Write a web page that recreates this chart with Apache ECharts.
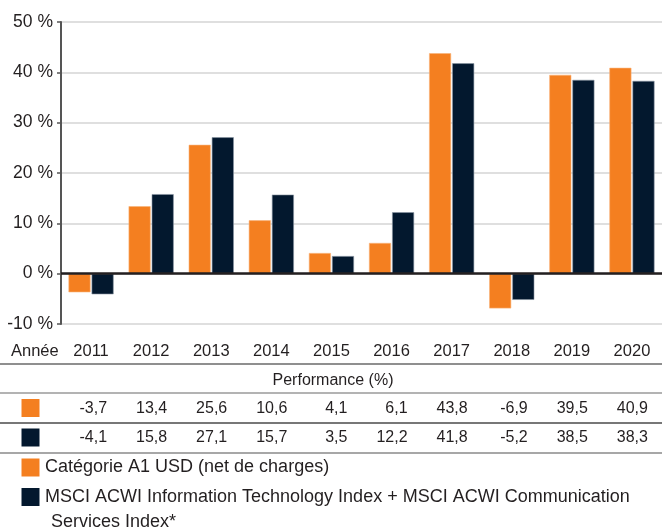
<!DOCTYPE html>
<html><head><meta charset="utf-8">
<script src="https://cdn.jsdelivr.net/npm/echarts@6/dist/echarts.min.js"></script>
<style>html,body{margin:0;padding:0;background:#fff}#c{width:662px;height:531px}</style>
</head><body><div id="c"></div>
<script>
const years = ['2011','2012','2013','2014','2015','2016','2017','2018','2019','2020'];
const fundValues = [-3.7, 13.4, 25.6, 10.6, 4.1, 6.1, 43.8, -6.9, 39.5, 40.9];
const indexValues = [-4.1, 15.8, 27.1, 15.7, 3.5, 12.2, 41.8, -5.2, 38.5, 38.3];
const fundName = 'Catégorie A1 USD (net de charges)';
const indexName1 = 'MSCI ACWI Information Technology Index + MSCI ACWI Communication';
const indexName2 = 'Services Index*';
const yearLabel = 'Année';
const tableTitle = 'Performance (%)';
const ORANGE = '#f47f20', NAVY = '#03182e', TXT = '#231f20';
const FONT = '"Liberation Sans", Arial, Helvetica, sans-serif';

const chart = echarts.init(document.getElementById('c'), null, {renderer:'canvas'});
const fmt = v => v.toFixed(1).replace('.', ',');

chart.setOption({
  animation:false,
  textStyle:{fontFamily:FONT},
  grid:{left:61, top:22, width:606, height:302},
  xAxis:{type:'category', data:years,
    axisLine:{show:false}, axisTick:{show:false},
    axisLabel:{fontSize:16.5, color:TXT, margin:19, fontFamily:FONT}},
  yAxis:{type:'value', min:-10, max:50, interval:10,
    axisLine:{show:true, lineStyle:{color:'#555', width:2}},
    axisTick:{show:true, length:4, lineStyle:{color:'#555', width:1.5}},
    axisLabel:{formatter:'{value} %', fontSize:17.5, color:TXT, margin:8, fontFamily:FONT},
    splitLine:{lineStyle:{color:'#d4d4d4', width:1.5}}},
  series:[
    {type:'bar', name:fundName, data:fundValues, barWidth:22, barGap:'5%',
     itemStyle:{color:ORANGE, borderColor:'#f9b37a', borderWidth:0.6},
     markLine:{silent:true, symbol:'none', label:{show:false},
       lineStyle:{color:'#231f20', width:2.5, type:'solid'}, data:[{yAxis:0}]}},
    {type:'bar', name:indexName1, data:indexValues, barWidth:22,
     itemStyle:{color:NAVY, borderColor:'#8a95a3', borderWidth:0.6}}
  ]
});

const g = [];
const hline = (y, color) => g.push({type:'line', shape:{x1:0,y1:y,x2:662,y2:y}, style:{stroke:color, lineWidth:1.5}, silent:true});
hline(364, '#6a6a6a'); hline(393, '#9a9a9a'); hline(423, '#4a4a4a'); hline(453, '#8a8a8a');
g.push({type:'text', left:11, top:343, style:{text:yearLabel, fontSize:16.5, fill:TXT, fontFamily:FONT}});
g.push({type:'text', x:333, y:381, style:{text:tableTitle, fontSize:16, fill:TXT, fontFamily:FONT, align:'center', verticalAlign:'middle'}});
const sq = (y, c) => g.push({type:'rect', shape:{x:21.5, y:y, width:18, height:18}, style:{fill:c}});
sq(399, ORANGE); sq(428.5, NAVY); sq(458.5, ORANGE); sq(488, NAVY);
years.forEach((yr, i) => {
  const x = chart.convertToPixel({xAxisIndex:0}, yr) + 16;
  g.push({type:'text', x:x, y:408.5, style:{text:fmt(fundValues[i]), fontSize:16, fill:TXT, fontFamily:FONT, align:'right', verticalAlign:'middle'}});
  g.push({type:'text', x:x, y:438, style:{text:fmt(indexValues[i]), fontSize:16, fill:TXT, fontFamily:FONT, align:'right', verticalAlign:'middle'}});
});
g.push({type:'text', x:45, y:467.5, style:{text:fundName, fontSize:18, fill:TXT, fontFamily:FONT, verticalAlign:'middle'}});
g.push({type:'text', x:45, y:497, style:{text:indexName1, fontSize:18, fill:TXT, fontFamily:FONT, verticalAlign:'middle'}});
g.push({type:'text', x:51, y:522, style:{text:indexName2, fontSize:18, fill:TXT, fontFamily:FONT, verticalAlign:'middle'}});
chart.setOption({graphic:{elements:g}});
</script></body></html>
